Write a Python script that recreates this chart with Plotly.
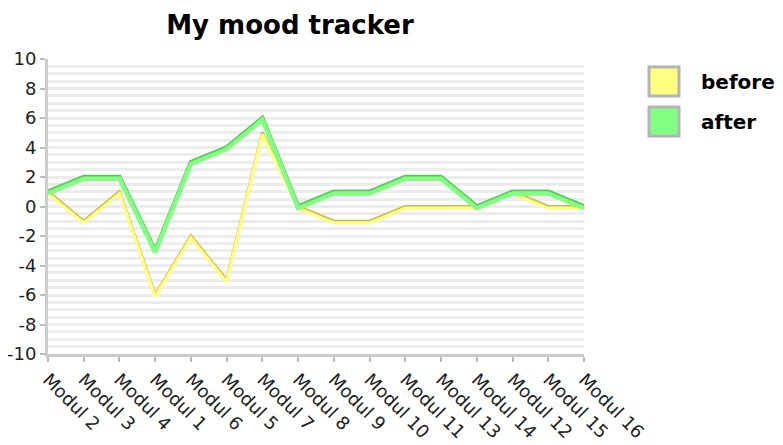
import plotly.graph_objects as go

categories = ["Modul 2", "Modul 3", "Modul 4", "Modul 1", "Modul 6", "Modul 5", "Modul 7", "Modul 8",
              "Modul 9", "Modul 10", "Modul 11", "Modul 13", "Modul 14", "Modul 12", "Modul 15", "Modul 16"]
before = [1, -1, 1, -6, -2, -5, 5, 0, -1, -1, 0, 0, 0, 1, 0, 0]
after = [1, 2, 2, -3, 3, 4, 6, 0, 1, 1, 2, 2, 0, 1, 1, 0]
y_tick_values = [-10, -8, -6, -4, -2, 0, 2, 4, 6, 8, 10]
y_tick_labels = ["-10", "-8", "-6", "-4", "-2", "0", "2", "4", "6", "8", "10"]

series = [
    ("before", before, "#ffff80", "#c2bc55", 3.2),
    ("after", after, "#80ff80", "#5cc25c", 4.4),
]

OFF = 8  # page body margin of the browser
W, H = 783 - OFF, 445 - OFF
# plot area in screen pixels: x 48..584, y 59..354
L, T = 48 - OFF, 59 - OFF
PW, PH = 536, 295
R, B = W - L - PW, H - T - PH
YMIN, YMAX = -10, 10
SHIFT = 1.7 * (YMAX - YMIN) / PH  # light "shadow" line drawn slightly lower


def px_x(sx):
    return (sx - OFF - L) / PW


def px_y(sy):
    return (T + PH - (sy - OFF)) / PH


fig = go.Figure()
for name, vals, light, dark, wd in series:
    fig.add_trace(go.Scatter(x=categories, y=vals, mode="lines", showlegend=False,
                             yaxis="y2", line=dict(color=light, width=wd), hoverinfo="skip"))
    fig.add_trace(go.Scatter(x=categories, y=vals, mode="lines", showlegend=False,
                             line=dict(color=dark, width=wd), name=name))

# custom legend (boxes + labels)
for i, (name, vals, light, dark, wd) in enumerate(series):
    top = 67 + i * 40
    fig.add_shape(type="rect", xref="paper", yref="paper",
                  x0=px_x(649), x1=px_x(679), y0=px_y(top), y1=px_y(top + 29),
                  fillcolor=light, line=dict(color="#b4b4b4", width=3), layer="above")
    fig.add_annotation(xref="paper", yref="paper", x=px_x(699), y=px_y(top + 15),
                       xanchor="left", yanchor="middle", showarrow=False,
                       text="<b>%s</b>" % name,
                       font=dict(family="DejaVu Sans", size=20, color="black"))

fig.update_layout(
    width=W, height=H,
    margin=dict(l=L, r=R, t=T, b=B),
    paper_bgcolor="white", plot_bgcolor="white",
    showlegend=False,
    title=dict(text="<b>My mood tracker</b>", x=px_x(290), xref="paper", xanchor="center",
               y=(H - (25 - OFF)) / H, yanchor="middle",
               font=dict(family="DejaVu Sans", size=26, color="black")),
    font=dict(family="DejaVu Sans", size=18, color="#222"),
    yaxis2=dict(overlaying="y", range=[YMIN + SHIFT, YMAX + SHIFT], visible=False,
                showgrid=False, zeroline=False),
)
fig.update_xaxes(
    type="category", range=[0, len(categories) - 1], tickangle=45, automargin=False,
    showgrid=False, showline=True, linecolor="#cccccc", linewidth=3,
    ticks="outside", ticklen=5, tickwidth=2, tickcolor="#bbbbbb",
    tickfont=dict(family="DejaVu Sans", size=18, color="#222"),
)
fig.update_layout(yaxis=dict(
    range=[YMIN, YMAX], tickvals=y_tick_values, ticktext=y_tick_labels,
    zeroline=False, automargin=False,
    showgrid=True, gridcolor="#ececec", gridwidth=3,
    minor=dict(dtick=0.5, showgrid=True, gridcolor="#ececec", gridwidth=3),
    showline=True, linecolor="#cccccc", linewidth=3,
    ticks="outside", ticklen=5, tickwidth=2, tickcolor="#bbbbbb",
    tickfont=dict(family="DejaVu Sans", size=18, color="#222"),
))

fig.write_html("out.html")
